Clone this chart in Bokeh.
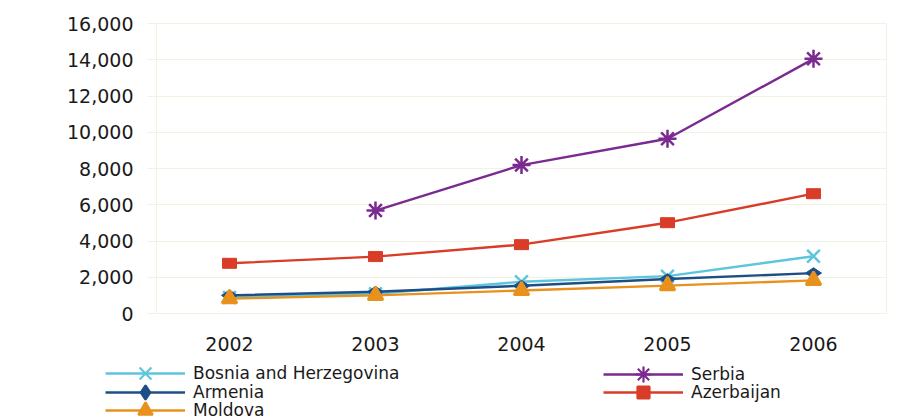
import math
from bokeh.plotting import figure
from bokeh.layouts import column, row
from bokeh.models import (FactorRange, NumeralTickFormatter, Legend, LegendItem,
                          FixedTicker, ColumnDataSource)
from bokeh.embed import file_html
from bokeh.resources import INLINE

# Yearly values per country
years = ["2002", "2003", "2004", "2005", "2006"]
bosnia = [880, 1090, 1750, 2060, 3160]
armenia = [1000, 1200, 1530, 1900, 2230]
moldova = [820, 1000, 1270, 1540, 1830]
serbia_years = ["2003", "2004", "2005", "2006"]
serbia = [5680, 8190, 9640, 14050]
azerbaijan = [2770, 3140, 3800, 5010, 6610]
y_ticks = [0, 2000, 4000, 6000, 8000, 10000, 12000, 14000, 16000]

FONT = "DejaVu Sans"
FAINT = "#f2f2e2"
TEXT = "#1a1a1a"

# name: (color, marker, marker size in chart, legend marker box height)
styles = {
    "Bosnia and Herzegovina": ("#5ec6dc", "x", 18, 42),
    "Armenia": ("#1d4e86", "diamond", 16, 36),
    "Moldova": ("#e8911c", "triangle", 15, 36),
    "Serbia": ("#7b2a8f", "asterisk", 18, 40),
    "Azerbaijan": ("#d93c27", "square", 13, 30),
}

p = figure(width=908, height=362, x_range=FactorRange(factors=years, range_padding=0),
           y_range=(0, 16000), output_backend="svg", toolbar_location=None,
           min_border_left=156, min_border_right=22, min_border_top=23,
           min_border_bottom=49)
p.outline_line_color = FAINT
p.background_fill_color = "white"
p.border_fill_color = "white"

p.xgrid.grid_line_color = None
p.ygrid.grid_line_color = FAINT

p.yaxis.ticker = FixedTicker(ticks=y_ticks)
p.yaxis.formatter = NumeralTickFormatter(format="0,0")
p.yaxis.axis_line_color = FAINT
p.yaxis.major_tick_line_color = FAINT
p.yaxis.major_tick_out = 9
p.yaxis.major_tick_in = 0
p.yaxis.minor_tick_line_color = None
p.yaxis.major_label_standoff = 14

p.xaxis.axis_line_color = FAINT
p.xaxis.major_tick_line_color = None
p.xaxis.major_label_standoff = 17

for ax in (p.xaxis, p.yaxis):
    ax.major_label_text_font = FONT
    ax.major_label_text_font_size = "19px"
    ax.major_label_text_color = TEXT


def series(name, xs, ys):
    color, marker, size, _ = styles[name]
    src = ColumnDataSource(dict(x=xs, y=ys))
    p.line("x", "y", source=src, line_color=color, line_width=2.4)
    if marker == "square":
        p.rect("x", "y", width=14, height=10, width_units="screen",
               height_units="screen", source=src, fill_color=color, line_color=color)
    elif marker == "diamond":
        p.scatter("x", "y", source=src, marker=marker, size=size, angle=math.pi / 2,
                  fill_color=color, line_color=color)
    else:
        p.scatter("x", "y", source=src, marker=marker, size=size,
                  fill_color=color, line_color=color, line_width=2.5)


series("Bosnia and Herzegovina", years, bosnia)
series("Armenia", years, armenia)
series("Moldova", years, moldova)
series("Serbia", serbia_years, serbia)
series("Azerbaijan", years, azerbaijan)

# Key strip under the chart: one legend per entry, in two columns
key = figure(width=908, height=55, x_range=(0, 1), y_range=(0, 1),
             output_backend="svg", toolbar_location=None, min_border=0)
key.axis.visible = False
key.grid.grid_line_color = None
key.outline_line_color = None
key.border_fill_color = "white"

# name -> (left edge of sample line, vertical centre of the row) in strip pixels
key_pos = {
    "Bosnia and Herzegovina": (105, 11),
    "Armenia": (105, 30),
    "Moldova": (105, 48),
    "Serbia": (603, 12),
    "Azerbaijan": (603, 30),
}

for name, (lx, cy) in key_pos.items():
    color, marker, size, gh = styles[name]
    # a single point far outside the strip's ranges, so only the key sample shows
    src = ColumnDataSource(dict(x=[50], y=[50]))
    ln = key.line("x", "y", source=src, line_color=color, line_width=2.6)
    mk = key.scatter("x", "y", source=src, marker=marker,
                     angle=math.pi / 2 if marker == "diamond" else 0,
                     fill_color=color, line_color=color, line_width=2.2)
    lg = Legend(items=[LegendItem(label=name, renderers=[ln, mk])],
                location=(lx, 55 - cy - gh / 2))
    lg.glyph_width = 80
    lg.glyph_height = gh
    lg.label_height = 16
    lg.label_standoff = 8
    lg.padding = 0
    lg.margin = 0
    lg.spacing = 0
    lg.border_line_color = None
    lg.background_fill_alpha = 0
    lg.label_text_font = FONT
    lg.label_text_font_size = "17px"
    lg.label_text_color = TEXT
    key.add_layout(lg, "center")

layout = column(p, row(key, spacing=0), spacing=0)
open("out.html", "w").write(file_html(layout, INLINE))
